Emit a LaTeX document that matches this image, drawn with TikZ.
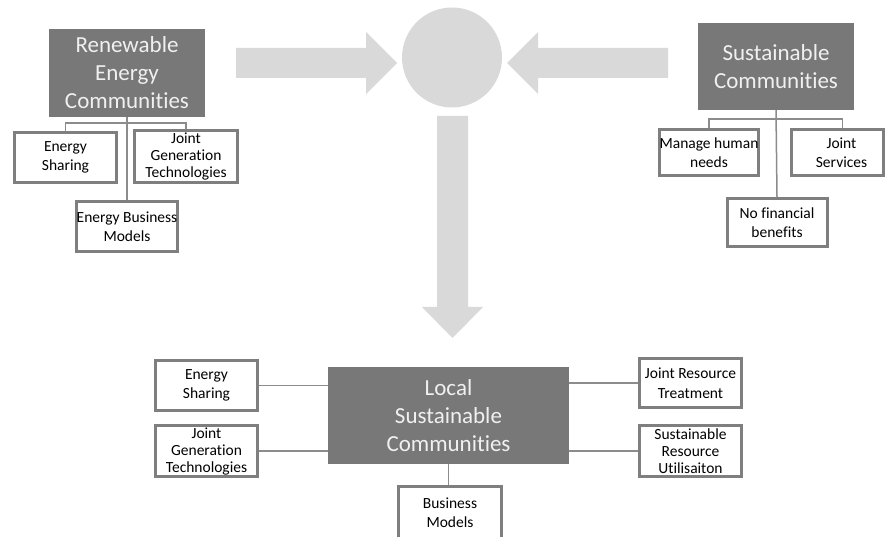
\documentclass[tikz,border=0pt]{standalone}
\usepackage{fontspec}
\setmainfont{Carlito}[Ligatures={NoCommon}]
\definecolor{arrowgray}{HTML}{D9D9D9}
\definecolor{headfill}{HTML}{787878}
\definecolor{headtext}{HTML}{F0F0F0}
\definecolor{framegray}{HTML}{7F7F7F}
\definecolor{linkgray}{HTML}{8C8C8C}
\begin{document}
\begin{tikzpicture}[x=1pt,y=-1pt,
  headbox/.style={fill=headfill, text=headtext, align=center, inner sep=0pt,
    font=\fontsize{23}{28}\selectfont},
  itembox/.style={draw=framegray, line width=3pt, fill=white, align=center,
    inner sep=0pt, font=\fontsize{15.5}{19.5}\selectfont},
  tightbox/.style={itembox, font=\fontsize{15.5}{17}\selectfont},
  link/.style={draw=linkgray, line width=1.5pt},
  blockarrow/.style={fill=arrowgray}]
\useasboundingbox (0,0) rectangle (886,537);

% central hub and the three block arrows
\node[circle, fill=arrowgray, minimum size=100pt, inner sep=0pt] (hub) at (452,57.5) {};
\fill[blockarrow] (236,48) -- (366,48) -- (366,32) -- (397,63) -- (366,94) -- (366,78) -- (236,78) -- cycle;
\fill[blockarrow] (668,48) -- (538,48) -- (538,32) -- (507,63) -- (538,94) -- (538,78) -- (668,78) -- cycle;
\fill[blockarrow] (437,116) -- (468,116) -- (468,307) -- (483,307) -- (452.5,338) -- (422,307) -- (437,307) -- cycle;

% renewable energy communities
\node[headbox, minimum width=156pt, minimum height=88pt] (rec) at (127,73) {Renewable\\Energy\\Communities};
\node[itembox, minimum width=102pt, minimum height=50pt] (es1) at (65.5,157.5) {Energy\\Sharing};
\node[tightbox, minimum width=103pt, minimum height=52pt] (jgt1) at (186,156.5) {Joint\\Generation\\Technologies};
\node[itembox, minimum width=101pt, minimum height=50pt] (ebm) at (127,226.5) {Energy Business\\Models};
\coordinate (recbus) at (127,123);
\draw[link] (rec.south) -- (ebm.north);
\draw[link] (es1.north) |- (recbus) -| (jgt1.north);

% sustainable communities
\node[headbox, minimum width=156pt, minimum height=87pt] (sc) at (776,66.5) {Sustainable\\Communities};
\node[itembox, minimum width=99pt, minimum height=46pt] (mhn) at (709,152.5) {Manage human\\needs};
\node[itembox, minimum width=92pt, minimum height=46pt] (js) at (837.5,152.5) {\hspace*{8pt}Joint\\\hspace*{8pt}Services};
\node[itembox, minimum width=100pt, minimum height=48pt] (nfb) at (777,222.5) {No financial\\benefits};
\coordinate (scbus) at (777,119);
\draw[link] (sc.south) -- (nfb.north);
\draw[link] (mhn.north) |- (scbus) -| ([xshift=5pt]js.north);

% local sustainable communities
\node[headbox, minimum width=241pt, minimum height=97pt] (lsc) at (448.5,415.5) {Local\\Sustainable\\Communities};
\node[itembox, minimum width=102pt, minimum height=50pt] (es2) at (206.5,385.5) {Energy\\Sharing};
\node[tightbox, minimum width=102pt, minimum height=51pt] (jgt2) at (206.5,451) {Joint\\Generation\\Technologies};
\node[itembox, minimum width=103pt, minimum height=52pt] (bm) at (450,512.5) {Business\\Models};
\node[itembox, minimum width=102pt, minimum height=49pt] (jrt) at (690.5,383) {Joint Resource\\Treatment};
\node[tightbox, minimum width=102pt, minimum height=51pt] (sru) at (690.5,451) {Sustainable\\Resource\\Utilisaiton};
\draw[link] (es2.east) -- (es2.east -| lsc.west);
\draw[link] (jgt2.east) -- (jgt2.east -| lsc.west);
\draw[link] (jrt.west) -- (jrt.west -| lsc.east);
\draw[link] (sru.west) -- (sru.west -| lsc.east);
\draw[link] (lsc.south) -- (lsc.south |- bm.north);
\end{tikzpicture}
\end{document}
